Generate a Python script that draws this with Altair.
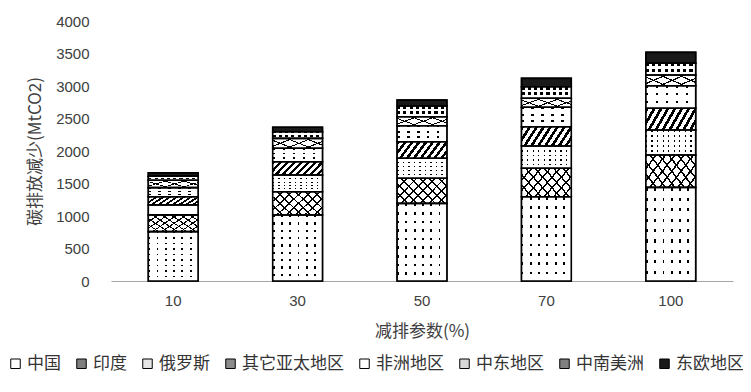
import altair as alt
import pandas as pd

params = ["10", "30", "50", "70", "100"]
regions = ["中国", "印度", "俄罗斯", "其它亚太地区", "非洲地区", "中东地区", "中南美洲", "东欧地区"]
v_china = [760, 1015, 1195, 1297, 1440]
v_india = [257, 359, 385, 437, 498]
v_russia = [154, 257, 308, 343, 385]
v_asia = [125, 204, 255, 297, 334]
v_africa = [140, 207, 246, 298, 348]
v_mideast = [115, 153, 139, 139, 164]
v_latam = [60, 102, 164, 178, 180]
v_eeurope = [55, 68, 93, 129, 169]
series = [v_china, v_india, v_russia, v_asia, v_africa, v_mideast, v_latam, v_eeurope]
y_ticks = [0, 500, 1000, 1500, 2000, 2500, 3000, 3500, 4000]

rows = []
for k, (r, vals) in enumerate(zip(regions, series)):
    for p, v in zip(params, vals):
        rows.append({"param": p, "region": r, "value": v, "k": k})
df = pd.DataFrame(rows)

legend_fills = ["#ffffff", "#7f7f7f", "#e6e6e6", "#8c8c8c", "#ffffff", "#d9d9d9", "#808080", "#1a1a1a"]

B, W, T = "black", "white", "rgba(255,255,255,0)"


def stripes(n, frac, on, off):
    s = []
    for i in range(n):
        a = round(i / n, 4)
        b = round((i + frac) / n, 4)
        c = round((i + 1) / n, 4)
        s += [{"offset": a, "color": on}, {"offset": b, "color": on},
              {"offset": b, "color": off}, {"offset": c, "color": off}]
    return s


def grad(x1, y1, x2, y2, stops):
    return {"gradient": "linear", "x1": x1, "y1": y1, "x2": x2, "y2": y2, "stops": stops}


textures = {
    "中国": [grad(0, 0, 1, 0, stripes(6, 0.22, B, W)), grad(0, 0, 0, 1, stripes(9, 0.3, T, W))],
    "印度": [grad(0, 0, 1.2, 0.6, stripes(8, 0.2, B, W)), grad(0, 1, 1.2, 0.4, stripes(8, 0.2, B, T))],
    "俄罗斯": [grad(0, 0, 1, 0, stripes(9, 0.25, B, W)), grad(0, 0, 0, 1, stripes(5, 0.3, T, W))],
    "其它亚太地区": [grad(0, 0, 1.176, 0.294, stripes(9, 0.45, B, W))],
    "非洲地区": [grad(0, 0, 1, 0, stripes(5, 0.25, B, W)), grad(0, 0, 0, 1, stripes(3, 0.3, T, W))],
    "中东地区": [grad(0, 0, 1.2, 0.6, stripes(4, 0.15, B, W)), grad(0, 1, 1.2, 0.4, stripes(4, 0.15, B, T))],
    "中南美洲": [grad(0, 0, 1, 0, stripes(8, 0.5, B, W)), grad(0, 0, 0, 1, stripes(2, 0.5, T, W))],
}

base = alt.Chart(df).transform_stack(
    stack="value", as_=["y0", "y1"], groupby=["param"],
    sort=[alt.SortField("k", order="ascending")]
)

x_enc = alt.X("param:N", sort=params,
              scale=alt.Scale(paddingInner=0.6, paddingOuter=0.3),
              axis=alt.Axis(title="减排参数(%)", labelAngle=0, ticks=False,
                            domainColor="#a6a6a6", domainWidth=1,
                            labelFont="Liberation Sans", labelFontSize=15, labelColor="#404040",
                            labelPadding=12, titleFont="Noto Sans CJK SC", titleFontSize=17,
                            titleFontWeight="normal", titleColor="#404040", titlePadding=15))
y_enc = alt.Y("y0:Q", scale=alt.Scale(domain=[0, 4000], nice=False),
              axis=alt.Axis(values=y_ticks, format="d", title="碳排放减少(MtCO2)", grid=False,
                            domain=False, ticks=False, labelFont="Liberation Sans", labelFontSize=15,
                            labelColor="#404040", labelPadding=22,
                            titleFont="Noto Sans CJK SC", titleFontSize=17, titleFontWeight="normal",
                            titleColor="#404040", titleX=-76, titleY=130, titleAngle=-90,
                            titleAlign="center", titleBaseline="middle"))
y2_enc = alt.Y2("y1:Q")

base_layer = base.mark_bar(stroke="black", strokeWidth=1.5).encode(
    x=x_enc, y=y_enc, y2=y2_enc,
    color=alt.Color("region:N", sort=regions,
                    scale=alt.Scale(domain=regions, range=legend_fills),
                    legend=alt.Legend(title=None, orient="none", direction="horizontal",
                                      legendX=-104, legendY=334, padding=0, symbolType="square",
                                      symbolSize=90, symbolStrokeColor="black",
                                      symbolStrokeWidth=1, labelFont="Noto Sans CJK SC",
                                      labelFontSize=17, labelColor="#333333", columnPadding=12,
                                      labelOffset=3, labelLimit=300))
)

layers = [base_layer]
for r in regions:
    for g in textures.get(r, []):
        layers.append(
            base.transform_filter(alt.datum.region == r).mark_bar(fill=g).encode(
                x=x_enc, y=y_enc, y2=y2_enc)
        )

outline = base.mark_bar(fill="transparent", stroke="black", strokeWidth=1.6).encode(
    x=x_enc, y=y_enc, y2=y2_enc)
layers.append(outline)

chart = alt.layer(*layers).properties(
    width=622, height=260,
    autosize=alt.AutoSizeParams(type="none"),
    padding={"left": 103, "top": 13, "right": 10, "bottom": 103},
    background="white",
).configure_view(strokeWidth=0)

chart.save("out.html", embed_options={"renderer": "svg", "actions": False})
